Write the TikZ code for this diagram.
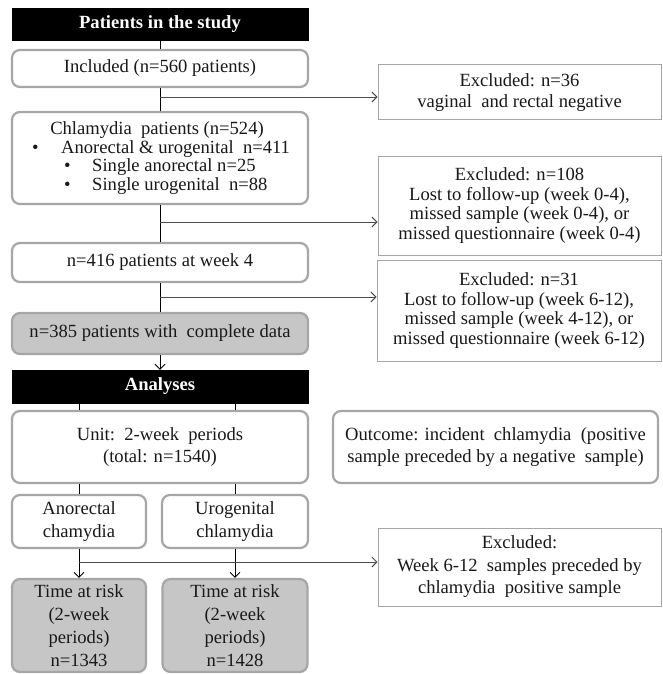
\documentclass[tikz,border=0pt]{standalone}
\usepackage{fontspec}
\setmainfont{Liberation Serif}
\usetikzlibrary{arrows.meta}
\begin{document}
\begin{tikzpicture}[x=1pt,y=-1pt,
  txt/.style={font=\fontsize{18.6}{19.5}\selectfont, text=black!90, align=center, inner sep=0pt},
  rbox/.style={txt, draw=gray!70, line width=2.2pt, rounded corners=8pt, fill=white},
  gbox/.style={rbox, fill=gray!45},
  xbox/.style={txt, draw=gray!70, line width=1pt, fill=white},
  hbox/.style={fill=black, draw=black, text=white, font=\fontsize{18.6}{20}\selectfont\bfseries, inner sep=0pt},
  conn/.style={draw=black, line width=0.9pt},
  branch/.style={draw=black!70, line width=0.9pt},
  arr/.style={-{Straight Barb[length=5pt,width=10pt]}},
  sz/.style 2 args={minimum width=#1pt, minimum height=#2pt}
]
\useasboundingbox (0,0) rectangle (662,674);

% Patients in the study
\node[hbox, sz={296}{32}] (t1) at (160,24) {Patients in the study};
\node[rbox, sz={296}{37}] (inc) at (160,68.5) {Included (n=560 patients)};
\node[xbox, sz={283}{55}, font=\fontsize{18.6}{21}\selectfont] (ex1) at (519.5,92.5) {Excluded: n=36\\vaginal\ \ and rectal negative};

\node[rbox, sz={296}{92}] (chl) at (160,158) {};
\node[txt, anchor=base] (c0) at (157,134) {Chlamydia\ \ patients (n=524)};
\node[txt, anchor=base west] (c1b) at (32,153) {•};
\node[txt, anchor=base west] (c1) at (61,153) {Anorectal \& urogenital\ \ n=411};
\node[txt, anchor=base west] (c2b) at (64,171.5) {•};
\node[txt, anchor=base west] (c2) at (92,171.5) {Single anorectal n=25};
\node[txt, anchor=base west] (c3b) at (64,190) {•};
\node[txt, anchor=base west] (c3) at (92,190) {Single urogenital\ \ n=88};

\node[xbox, sz={283}{99}] (ex2) at (519.5,205.5) {Excluded: n=108\\Lost to follow-up (week 0-4),\\missed sample (week 0-4), or\\missed questionnaire (week 0-4)};

\node[rbox, sz={296}{39}] (w4) at (160,262.5) {n=416 patients at week 4};
\node[xbox, sz={284}{101}] (ex3) at (519,310.5) {Excluded: n=31\\Lost to follow-up (week 6-12),\\missed sample (week 4-12), or\\missed questionnaire (week 6-12)};

\node[gbox, sz={296}{41}] (n385) at (160,333.5) {n=385 patients with\ \ complete data};

% Analyses
\node[hbox, sz={296}{33}] (t2) at (160,386.5) {Analyses};
\node[rbox, sz={296}{72}, font=\fontsize{18.6}{22}\selectfont] (unit) at (160,447) {Unit:\ \ 2-week\ \ periods\\(total: n=1540)};
\node[rbox, sz={325}{72}, font=\fontsize{18.6}{22}\selectfont] (outc) at (495.5,447) {Outcome: incident\ \ chlamydia\ \ (positive\\sample preceded by a negative\ \ sample)};

\node[rbox, sz={134}{53}, font=\fontsize{18.6}{23}\selectfont] (ano) at (79,521.5) {Anorectal\\chamydia};
\node[rbox, sz={146}{53}, font=\fontsize{18.6}{23}\selectfont] (uro) at (235,521.5) {Urogenital\\chlamydia};
\node[xbox, sz={283}{78}, font=\fontsize{18.6}{22.5}\selectfont] (ex4) at (519.5,567) {Excluded:\\Week 6-12\ \ samples preceded by\\chlamydia\ \ positive sample};

\node[gbox, sz={134}{93}, font=\fontsize{18.6}{23}\selectfont] (tr1) at (79,625.5) {Time at risk\\(2-week\\periods)\\n=1343};
\node[gbox, sz={145}{93}, font=\fontsize{18.6}{23}\selectfont] (tr2) at (235,625.5) {Time at risk\\(2-week\\periods)\\n=1428};

% connectors
\draw[conn] (t1.south) -- (inc.north);
\draw[conn] (inc.south) -- (chl.north);
\coordinate (b1) at (160,97);
\draw[branch, arr] (b1) -- (b1 -| ex1.west);
\draw[conn] (chl.south) -- (w4.north);
\coordinate (b2) at (160,222);
\draw[branch, arr] (b2) -- (b2 -| ex2.west);
\draw[conn] (w4.south) -- (n385.north);
\coordinate (b3) at (160,297);
\draw[branch, arr] (b3) -- (b3 -| ex3.west);
\draw[conn, arr] (n385.south) -- (t2.north);

\draw[conn] (t2.south -| ano.north) -- (unit.north -| ano.north);
\draw[conn] (t2.south -| uro.north) -- (unit.north -| uro.north);
\draw[conn] (unit.south -| ano.north) -- (ano.north);
\draw[conn] (unit.south -| uro.north) -- (uro.north);
\draw[conn, arr] (ano.south) -- (tr1.north);
\draw[conn, arr] (uro.south) -- (tr2.north);
\coordinate (b4) at (79,562);
\draw[branch, arr] (b4) -- (b4 -| ex4.west);
\end{tikzpicture}
\end{document}
